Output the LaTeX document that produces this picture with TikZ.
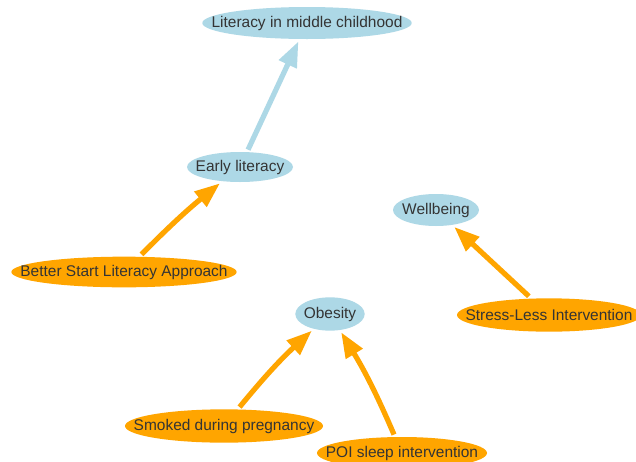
\documentclass[tikz,border=0pt]{standalone}
\usepackage{fontspec}
\setmainfont{Liberation Sans}
\usetikzlibrary{arrows.meta}
\usetikzlibrary{shapes.geometric}
\definecolor{visblue}{HTML}{ADD8E6}
\definecolor{visorange}{HTML}{FFA500}
\definecolor{vistext}{HTML}{343434}
\newcommand{\lbl}[1]{\makebox[0pt]{#1}}

\begin{document}
\begin{tikzpicture}[x=0.75pt, y=-0.75pt, line width=3.75pt,
        outcome_style/.style={ellipse,fill=visblue,inner sep=0pt,text=vistext,font=\fontsize{11.6}{13}\selectfont},
        factor_style/.style={ellipse,fill=visorange,inner sep=0pt,text=vistext,font=\fontsize{11.6}{13}\selectfont},
        blue_edge_style/.style={draw=visblue, line width=3.9pt,-{Triangle[length=19pt,width=14pt]}},
        orange_edge_style/.style={draw=visorange, line width=3.9pt,-{Triangle[length=19pt,width=14pt]}}]

        \path[use as bounding box, fill=white] (0,0) rectangle (636,461);

        \node [outcome_style, minimum width=157pt, minimum height=24pt](lit) at (307,23) {\lbl{Literacy in middle childhood}};

        \node [outcome_style, minimum width=79.5pt, minimum height=22.5pt](early) at (240,167) {\lbl{Early literacy}};

        \node [factor_style, minimum width=169pt, minimum height=23pt](bsla) at (124,272) {\lbl{Better Start Literacy Approach}};

        \node [outcome_style, minimum width=64.5pt, minimum height=24pt](well) at (436,210) {\lbl{Wellbeing}};

        \node [factor_style, minimum width=138pt, minimum height=25pt](stress) at (549,315) {\lbl{Stress-Less Intervention}};

        \node [outcome_style, minimum width=52pt, minimum height=25pt](obes) at (330,314) {\lbl{Obesity}};

        \node [factor_style, minimum width=148.5pt, minimum height=25pt](smoke) at (224,426) {\lbl{Smoked during pregnancy}};

        \node [factor_style, minimum width=127.5pt, minimum height=24pt](poi) at (402,453) {\lbl{POI sleep intervention}};

        \draw [blue_edge_style] (early) -- (lit);

        \draw [orange_edge_style] (bsla) to[bend left=3] (early);

        \draw [orange_edge_style] (stress) -- (well);

        \draw [orange_edge_style] (smoke) to[bend left=4] (obes);

        \draw [orange_edge_style] (poi) to[bend right=4] (obes);

        \end{tikzpicture}
\end{document}
